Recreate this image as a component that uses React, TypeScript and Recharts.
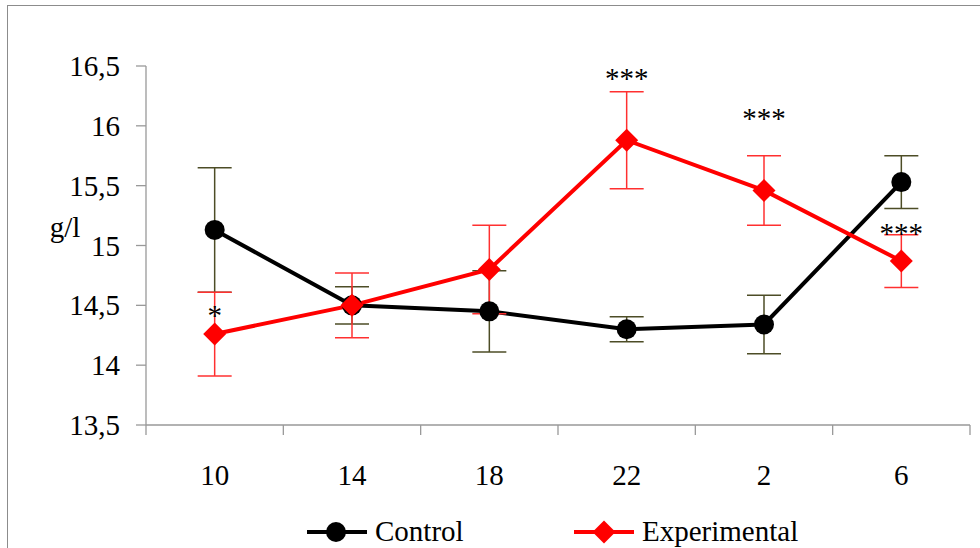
import { LineChart, Line, XAxis, YAxis, ErrorBar, LabelList } from "recharts";

// time of day (h)
const HOURS = ["10", "14", "18", "22", "2", "6"];

// g/l, mean and error
const CONTROL = [15.13, 14.5, 14.45, 14.3, 14.34, 15.53];
const CONTROL_ERR = [0.52, 0.155, 0.34, 0.105, 0.245, 0.22];
const EXPERIMENTAL = [14.26, 14.5, 14.8, 15.88, 15.46, 14.87];
const EXPERIMENTAL_ERR = [0.35, 0.27, 0.37, 0.405, 0.29, 0.22];

// significance marks and the value they sit at
const SIGNIFICANCE = ["*", "", "", "***", "***", "***"];
const SIG_AT = [14.335, null, null, 16.315, 15.98, 15.02];

const Y_TICKS = [13.5, 14, 14.5, 15, 15.5, 16, 16.5];

const W = 980;
const H = 548;
const MARGIN = { top: 66, right: 10, left: 0, bottom: 0 };
const Y_AXIS_W = 146;
const X_AXIS_H = 123;
const BAND = (W - MARGIN.left - MARGIN.right - Y_AXIS_W) / HOURS.length;

const FONT = "Liberation Serif, DejaVu Serif, serif";
const FS = 29;
const AXIS_GREY = "#999";
const RED = "#ff0000";

const data = HOURS.map((hour, i) => ({
  hour,
  control: CONTROL[i],
  controlErr: CONTROL_ERR[i],
  experimental: EXPERIMENTAL[i],
  experimentalErr: EXPERIMENTAL_ERR[i],
  sig: SIGNIFICANCE[i],
  sigAt: SIG_AT[i],
}));

const fmt = (v: number) => String(v).replace(".", ",");

// x tick: label at the centre, tick marks at the category borders
function HourTick(props: any) {
  const { x, y, payload, index } = props;
  const half = BAND / 2;
  return (
    <g>
      <line x1={x - half} x2={x - half} y1={y} y2={y + 10} stroke={AXIS_GREY} strokeWidth={1.3} />
      {index === HOURS.length - 1 && (
        <line x1={x + half} x2={x + half} y1={y} y2={y + 10} stroke={AXIS_GREY} strokeWidth={1.3} />
      )}
      <text x={x} y={y + 60} textAnchor="middle" fontSize={FS} style={{ fontFamily: FONT }} fill="#000">
        {payload.value}
      </text>
    </g>
  );
}

function YTick(props: any) {
  const { x, y, payload } = props;
  return (
    <text x={x} y={y} dy="0.35em" textAnchor="end" fontSize={FS} style={{ fontFamily: FONT }} fill="#000">
      {fmt(payload.value)}
    </text>
  );
}

function CircleDot(p: any) {
  if (p.cx == null || p.cy == null) return null;
  return <circle key={`c-${p.index}`} cx={p.cx} cy={p.cy} r={10} fill="#000" />;
}

function DiamondDot(p: any) {
  if (p.cx == null || p.cy == null) return null;
  const { cx, cy } = p;
  const s = 11.5;
  return (
    <path
      key={`d-${p.index}`}
      d={`M${cx},${cy - s}L${cx + s},${cy}L${cx},${cy + s}L${cx - s},${cy}Z`}
      fill={RED}
    />
  );
}

function SigLabel(p: any) {
  const x = p.x ?? p.viewBox?.x;
  const y = p.y ?? p.viewBox?.y;
  if (!p.value || x == null || y == null) return null;
  return (
    <text x={x} y={y} textAnchor="middle" fontSize={FS} style={{ fontFamily: FONT }} fill="#000">
      {p.value}
    </text>
  );
}

function YLabel(p: any) {
  const vb = p.viewBox || { x: 0, y: MARGIN.top };
  return (
    <text x={vb.x + 65} y={vb.y + 171} textAnchor="middle" fontSize={FS} style={{ fontFamily: FONT }} fill="#000">
      g/l
    </text>
  );
}

export default function App() {
  return (
    <div
      style={{
        position: "absolute",
        left: 0,
        top: 0,
        width: W,
        height: H,
        overflow: "hidden",
        background: "#fff",
        fontFamily: FONT,
      }}
    >
      <div
        style={{
          position: "absolute",
          left: 7,
          top: 5,
          width: 1100,
          height: 700,
          border: "1.5px solid #8c8c8c",
          boxSizing: "border-box",
        }}
      />
      <div style={{ position: "absolute", left: 0, top: 0 }}>
        <LineChart width={W} height={H} data={data} margin={MARGIN}>
          <XAxis
            dataKey="hour"
            height={X_AXIS_H}
            padding={{ left: BAND / 2, right: BAND / 2 }}
            axisLine={{ stroke: AXIS_GREY, strokeWidth: 1.3 }}
            tickLine={false}
            tickSize={0}
            tickMargin={0}
            tick={<HourTick />}
            interval={0}
          />
          <YAxis
            domain={[13.5, 16.5]}
            ticks={Y_TICKS}
            width={Y_AXIS_W}
            tickSize={10}
            tickMargin={16}
            axisLine={{ stroke: AXIS_GREY, strokeWidth: 1.3 }}
            tickLine={{ stroke: AXIS_GREY, strokeWidth: 1.3 }}
            tick={<YTick />}
            interval={0}
            label={<YLabel />}
          />
          <Line
            dataKey="control"
            stroke="#000"
            strokeWidth={4}
            dot={CircleDot}
            activeDot={false}
            isAnimationActive={false}
          >
            <ErrorBar dataKey="controlErr" width={17} strokeWidth={1.5} stroke="#4d4d26" direction="y" />
          </Line>
          <Line
            dataKey="experimental"
            stroke={RED}
            strokeWidth={4}
            dot={DiamondDot}
            activeDot={false}
            isAnimationActive={false}
          >
            <ErrorBar dataKey="experimentalErr" width={17} strokeWidth={1.5} stroke="#ff3030" direction="y" />
          </Line>
          <Line
            dataKey="sigAt"
            stroke="none"
            dot={false}
            activeDot={false}
            isAnimationActive={false}
            legendType="none"
          >
            <LabelList dataKey="sig" content={SigLabel} />
          </Line>
        </LineChart>
      </div>
      <svg width={W} height={H} style={{ position: "absolute", left: 0, top: 0, pointerEvents: "none" }}>
        <line x1={307} x2={367} y1={532} y2={532} stroke="#000" strokeWidth={4} />
        <circle cx={336} cy={532} r={10} fill="#000" />
        <text x={375} y={541} fontSize={FS} style={{ fontFamily: FONT }} fill="#000">
          Control
        </text>
        <line x1={574} x2={634} y1={532} y2={532} stroke={RED} strokeWidth={4} />
        <path d="M604,520.5L615.5,532L604,543.5L592.5,532Z" fill={RED} />
        <text x={642} y={541} fontSize={FS} style={{ fontFamily: FONT }} fill="#000">
          Experimental
        </text>
      </svg>
    </div>
  );
}
